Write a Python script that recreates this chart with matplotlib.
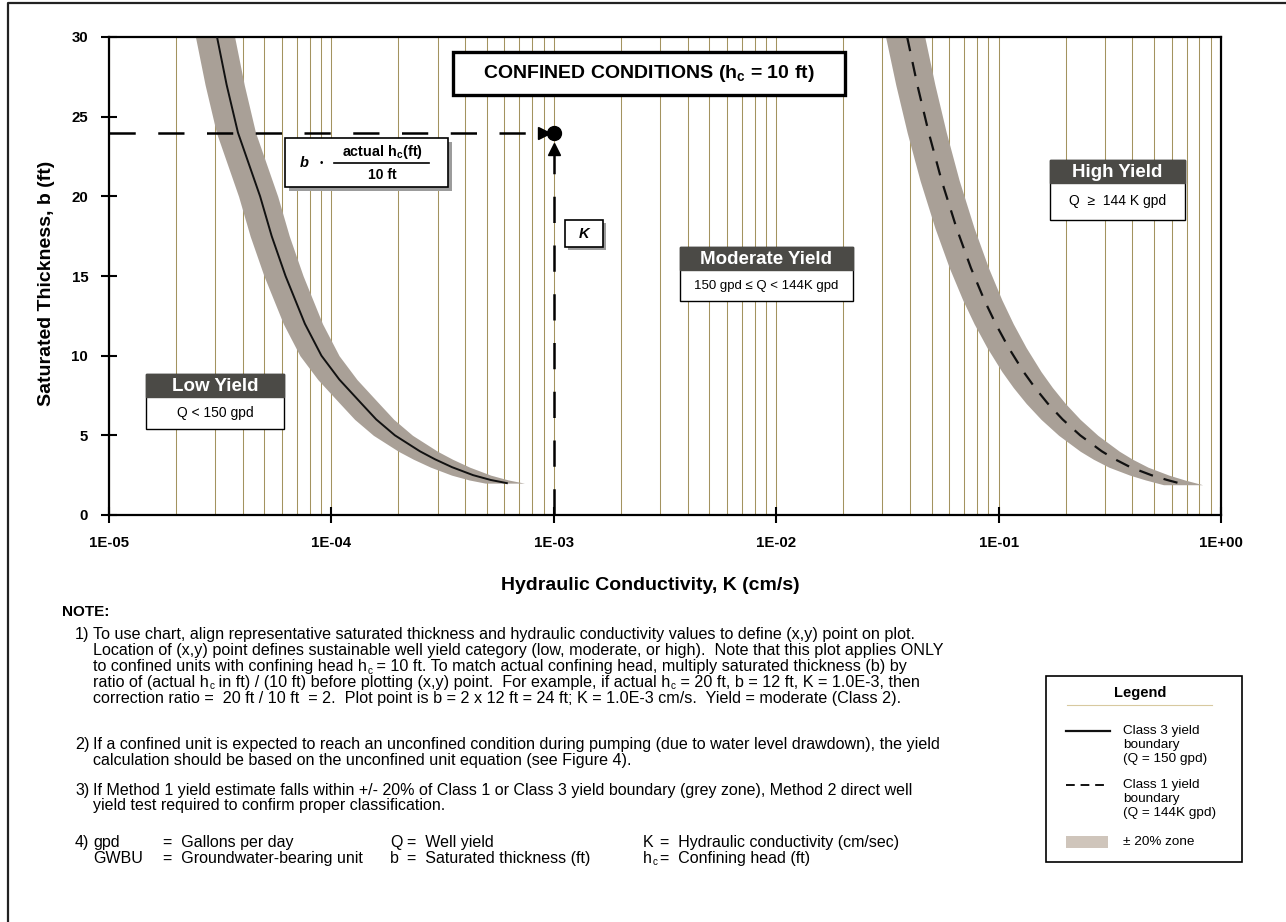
import matplotlib
matplotlib.use('Agg')
import matplotlib.pyplot as plt
from matplotlib.patches import Rectangle
from matplotlib.lines import Line2D
from matplotlib.ticker import LogLocator, NullFormatter
import numpy as np

plt.rcParams['font.family'] = ['Liberation Sans', 'DejaVu Sans']
plt.rcParams['mathtext.fontset'] = 'custom'
plt.rcParams['mathtext.rm'] = 'Liberation Sans'
plt.rcParams['mathtext.it'] = 'Liberation Sans:italic'
plt.rcParams['mathtext.bf'] = 'Liberation Sans:bold'

# Class 3 boundary (Q = 150 gpd): saturated thickness (ft) vs K (cm/s)
class3_b = [30, 27, 24, 20, 17.5, 15, 12, 10, 8.5, 7, 6, 5, 4, 3.5, 3, 2.5, 2.2, 2.0]
class3_k = [3.06e-5, 3.38e-5, 3.8e-5, 4.78e-5, 5.39e-5, 6.22e-5, 7.6e-5, 9.02e-5, 1.086e-4,
            1.364e-4, 1.59e-4, 1.93e-4, 2.5e-4, 2.92e-4, 3.49e-4, 4.34e-4, 5.2e-4, 6.15e-4]

# Class 1 boundary (Q = 144K gpd)
class1_b = [30, 27, 24, 21, 18, 15.5, 13.5, 12, 10.5, 9, 8, 7, 6, 5, 4, 3.5, 3, 2.5, 2.2, 1.9]
class1_k = [0.0388, 0.0431, 0.0485, 0.0554, 0.0647, 0.0751, 0.0862, 0.097, 0.1109, 0.1293,
            0.1455, 0.1663, 0.194, 0.2328, 0.291, 0.3334, 0.3916, 0.4865, 0.572, 0.689]

zone_pct = 0.20          # +/- 20% zone around each boundary
example_k = 1.0e-3       # worked example point
example_b = 24

x_ticks = [1e-5, 1e-4, 1e-3, 1e-2, 1e-1, 1e0]
x_labels = ['1E-05', '1E-04', '1E-03', '1E-02', '1E-01', '1E+00']
y_ticks = [0, 5, 10, 15, 20, 25, 30]

W, H = 1286, 922
fig = plt.figure(figsize=(W / 100, H / 100), dpi=100)
renderer = fig.canvas.get_renderer()


def fx(px):
    return px / W


def fy(py):
    return 1 - py / H


def rect(x0, y0, x1, y1, face='white', edge='black', lw=1.0, z=5):
    fig.add_artist(Rectangle((fx(x0), fy(y1)), fx(x1) - fx(x0), fy(y0) - fy(y1),
                             transform=fig.transFigure, facecolor=face,
                             edgecolor=edge, linewidth=lw, zorder=z))


def hline(x0, x1, y, **kw):
    fig.add_artist(Line2D([fx(x0), fx(x1)], [fy(y), fy(y)], transform=fig.transFigure, **kw))


def label(x, y, s, **kw):
    kw.setdefault('ha', 'left')
    kw.setdefault('va', 'center')
    return fig.text(fx(x), fy(y), s, zorder=10, **kw)


def note_line(x, y, s, size):
    # "h_c" in the note text gets a small lowered "c"
    pieces = s.split('_c')
    for i, piece in enumerate(pieces):
        t = label(x, y, piece, fontsize=size)
        x = t.get_window_extent(renderer).x1
        if i < len(pieces) - 1:
            t = label(x + 0.5, y + 4, 'c', fontsize=size * 0.62)
            x = t.get_window_extent(renderer).x1


ax = fig.add_axes([fx(109), fy(515), fx(1221) - fx(109), fy(37) - fy(515)])
ax.set_xscale('log')
ax.set_xlim(1e-5, 1)
ax.set_ylim(0, 30)

band = '#a9a097'
for k, b in [(class3_k, class3_b), (class1_k, class1_b)]:
    k = np.array(k)
    ax.fill_betweenx(b, k * (1 - zone_pct), k * (1 + zone_pct), color=band, lw=0, zorder=2)
ax.plot(class3_k, class3_b, color='#111111', lw=1.4, zorder=3)
ax.plot(class1_k, class1_b, color='#111111', lw=1.6, dashes=(6.5, 5), zorder=3)

# worked example: b = 24 ft, K = 1.0E-3 cm/s
ax.plot([1e-5, example_k * 10 ** -0.045], [example_b, example_b], color='k', lw=1.8,
        dashes=(10.5, 9), zorder=4)
ax.plot([example_k, example_k], [0, example_b - 1.2], color='k', lw=1.8,
        dashes=(10.5, 9), zorder=4)
ax.plot(example_k * 10 ** -0.044, example_b, marker='>', ms=8, color='k', zorder=5)
ax.plot(example_k, example_b - 1.0, marker='^', ms=8, color='k', zorder=5)
ax.plot(example_k, example_b, marker='o', ms=10, color='k', zorder=5)

ax.xaxis.set_minor_locator(LogLocator(base=10, subs=range(2, 10), numticks=50))
ax.xaxis.set_minor_formatter(NullFormatter())
ax.grid(True, which='both', axis='x', color='#a3935f', lw=0.75)
ax.set_axisbelow(True)
ax.set_xticks(x_ticks)
ax.set_xticklabels(x_labels, fontweight='bold', fontsize=10.8)
ax.set_yticks(y_ticks)
ax.set_yticklabels([str(v) for v in y_ticks], fontweight='bold', fontsize=10.8)
ax.tick_params(axis='both', which='major', direction='inout', length=12, width=1.5, pad=9)
ax.tick_params(axis='x', which='minor', length=0)
for s in ax.spines.values():
    s.set_linewidth(1.6)

label(47, 283, 'Saturated Thickness, b (ft)', rotation=90, ha='center',
      fontsize=14, fontweight='bold')
label(650, 585, 'Hydraulic Conductivity, K (cm/s)', ha='center', fontsize=14, fontweight='bold')

# title box
rect(453, 52, 845, 95, lw=2.4, z=6)
label(649, 74, r'CONFINED CONDITIONS ($\mathbf{h_c}$ = 10 ft)', ha='center',
      fontsize=14, fontweight='bold')

# correction factor box
rect(289, 142, 452, 191, face='#9c9c9c', edge='none', z=5)
rect(285, 138, 448, 187, lw=1.2, z=6)
label(304, 163, 'b', ha='center', fontsize=10.5, fontweight='bold', fontstyle='italic')
label(321, 163, '•', ha='center', fontsize=7)
label(382, 152, r'actual $\mathbf{h_c}$(ft)', ha='center', fontsize=10.4, fontweight='bold')
hline(334, 429, 163, color='k', lw=1.2, zorder=7)
label(382, 175, '10 ft', ha='center', fontsize=10, fontweight='bold')

# K box
rect(568, 223, 606, 250, face='#9c9c9c', edge='none', z=5)
rect(565, 220, 603, 247, lw=1.2, z=6)
label(584, 234, 'K', ha='center', fontsize=10.5, fontweight='bold', fontstyle='italic')

# yield category boxes
header = '#4b4a46'
for x0, x1, y0, ym, y1, title, body, size in [
        (146, 284, 374, 397, 429, 'Low Yield', 'Q < 150 gpd', 10),
        (680, 853, 247, 270, 301, 'Moderate Yield', '150 gpd ≤ Q < 144K gpd', 9.5),
        (1050, 1185, 160, 183, 220, 'High Yield', 'Q  ≥  144 K gpd', 10)]:
    rect(x0, y0, x1, y1, lw=1.0, z=6)
    rect(x0, y0, x1, ym, face=header, edge=header, lw=1.0, z=6)
    label((x0 + x1) / 2, (y0 + ym) / 2 + 1, title, ha='center', color='white',
          fontsize=13.5, fontweight='bold')
    label((x0 + x1) / 2, (ym + y1) / 2, body, ha='center', fontsize=size)

# legend
rect(1046, 676, 1242, 862, lw=1.2, z=6)
label(1140, 693, 'Legend', ha='center', fontsize=10.5, fontweight='bold')
hline(1067, 1212, 705, color='#d8c9a0', lw=0.8, zorder=7)
hline(1066, 1110, 731, color='#111111', lw=1.6, zorder=7)
hline(1066, 1104, 785, color='#111111', lw=1.4, dashes=(4.5, 3), zorder=7)
rect(1066, 836, 1108, 848, face='#cfc5bb', edge='none', z=7)
for y, s in [(731, 'Class 3 yield'), (745, 'boundary'), (759, '(Q = 150 gpd)'),
             (785, 'Class 1 yield'), (799, 'boundary'), (813, '(Q = 144K gpd)'),
             (842, '± 20% zone')]:
    label(1123, y, s, fontsize=9.7)

# notes
label(62, 612, 'NOTE:', fontsize=11, fontweight='bold')
note1 = ['To use chart, align representative saturated thickness and hydraulic conductivity values to define (x,y) point on plot.',
         'Location of (x,y) point defines sustainable well yield category (low, moderate, or high).  Note that this plot applies ONLY',
         'to confined units with confining head h_c = 10 ft. To match actual confining head, multiply saturated thickness (b) by',
         'ratio of (actual h_c in ft) / (10 ft) before plotting (x,y) point.  For example, if actual h_c = 20 ft, b = 12 ft, K = 1.0E-3, then',
         'correction ratio =  20 ft / 10 ft  = 2.  Plot point is b = 2 x 12 ft = 24 ft; K = 1.0E-3 cm/s.  Yield = moderate (Class 2).']
note2 = ['If a confined unit is expected to reach an unconfined condition during pumping (due to water level drawdown), the yield',
         'calculation should be based on the unconfined unit equation (see Figure 4).']
note3 = ['If Method 1 yield estimate falls within +/- 20% of Class 1 or Class 3 yield boundary (grey zone), Method 2 direct well',
         'yield test required to confirm proper classification.']

for num, lines, y0, size in [('1)', note1, 635, 11.6),
                             ('2)', note2, 745, 11.6),
                             ('3)', note3, 790, 11.5)]:
    label(75, y0, num, fontsize=size)
    for i, s in enumerate(lines):
        note_line(93, y0 + i * 15.8, s, size)

label(75, 842, '4)', fontsize=11.5)
for y, a, b in [(842, 'gpd', 'Gallons per day'), (858, 'GWBU', 'Groundwater-bearing unit')]:
    label(93, y, a, fontsize=11.5)
    label(163, y, '=  ' + b, fontsize=11.5)
for y, a, b in [(842, 'Q', 'Well yield'), (858, 'b', 'Saturated thickness (ft)')]:
    label(390, y, a, fontsize=11.5)
    label(407, y, '=  ' + b, fontsize=11.5)
for y, a, b in [(842, 'K', 'Hydraulic conductivity (cm/sec)'), (858, 'h_c', 'Confining head (ft)')]:
    note_line(643, y, a, 11.5)
    label(660, y, '=  ' + b, fontsize=11.5)

# page frame
fig.add_artist(Line2D([fx(8), fx(8), 1], [0, fy(3), fy(3)], transform=fig.transFigure,
                      color='#222222', lw=1.6))

fig.savefig('out.png', dpi=100)
